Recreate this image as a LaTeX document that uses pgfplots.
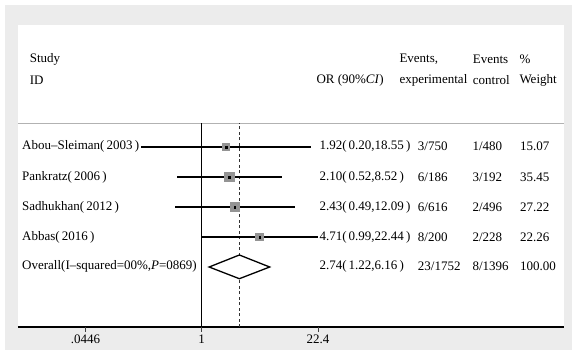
\documentclass[border=0pt]{standalone}
\usepackage{pgfplots}
\pgfplotsset{compat=1.18}
\usepackage{fontspec}
\setmainfont{Liberation Serif}
\newcommand{\tf}{\fontsize{13bp}{15bp}\selectfont}
\begin{document}
\begin{tikzpicture}
\begin{scope}[x=1bp,y=1bp]
\fill[white] (0,0) rectangle (578,355);
\fill[gray!15] (5,5) rectangle (572,350);
\fill[white] (18,28) rectangle (564,330);
\end{scope}
\begin{axis}[
  at={(18bp,28bp)}, anchor=south west,
  scale only axis, width=546bp, height=302bp,
  xmode=log, xmin=0.00736, xmax=16130,
  ymin=0, ymax=302,
  hide y axis,
  axis x line*=bottom,
  axis line style={black, line width=1.2bp, -},
  xtick={0.0446,1,22.4}, xticklabels={.0446,1,22.4},
  major tick length=0pt,
  /pgf/number format/assume math mode=true,
  xticklabel style={font=\tf, yshift=-4bp},
  clip=false,
]
% tick marks
\addplot[black!75, line width=0.8bp] coordinates {(0.0446,0) (0.0446,-5)};
\addplot[black!75, line width=0.8bp] coordinates {(1,0) (1,-5)};
\addplot[black!75, line width=0.8bp] coordinates {(22.4,0) (22.4,-5)};
% gray separator line
\addplot[black!30, line width=0.8bp] coordinates {(0.00736,204) (16130,204)};
% null line and overall dashed line
\addplot[black, line width=0.9bp] coordinates {(1,0) (1,204)};
\addplot[black!80, line width=0.6bp, dash pattern=on 3bp off 2.5bp] coordinates {(2.74,0) (2.74,204)};
% CI lines
\addplot[black, line width=1.3bp] coordinates {(0.20,180) (18.55,180)};
\addplot[black, line width=1.3bp] coordinates {(0.52,150) (8.52,150)};
\addplot[black, line width=1.3bp] coordinates {(0.49,120) (12.09,120)};
\addplot[black, line width=1.3bp] coordinates {(0.99,90) (22.44,90)};
% weight squares
\addplot[only marks, mark=square*, mark size=3.1bp, mark options={fill=black!42, draw=black!42, line width=0pt}] coordinates {(1.92,180)};
\addplot[only marks, mark=square*, mark size=4.75bp, mark options={fill=black!42, draw=black!42, line width=0pt}] coordinates {(2.10,150)};
\addplot[only marks, mark=square*, mark size=4.15bp, mark options={fill=black!42, draw=black!42, line width=0pt}] coordinates {(2.43,120)};
\addplot[only marks, mark=square*, mark size=3.75bp, mark options={fill=black!42, draw=black!42, line width=0pt}] coordinates {(4.71,90)};
% center points
\addplot[only marks, mark=square*, mark size=0.8bp, mark options={fill=black, draw=none}] coordinates {(1.92,180) (2.10,150) (2.43,120) (4.71,90)};
% overall diamond
\addplot[black, line width=1.3bp, fill=white, line join=miter] coordinates {(1.22,60) (2.74,72) (6.16,60) (2.74,48.3) (1.22,60)} -- cycle;
\end{axis}
\begin{scope}[x=1bp,y=1bp, every node/.style={font=\tf, inner sep=0pt}]
\node[anchor=west] at (29.6,296) {Study};
\node[anchor=west] at (29.6,275) {ID};
\node[anchor=east] at (384,275) {OR (90\%\textit{CI})};
\node[anchor=west] at (399.3,296) {Events,};
\node[anchor=west] at (399.3,275) {experimental};
\node[anchor=west] at (472.7,296) {Events};
\node[anchor=west] at (472.7,275) {control};
\node[anchor=west] at (519.3,296) {\%};
\node[anchor=west] at (519.3,275) {Weight};
% row labels
\node[anchor=west] at (22,208.3) {Abou--Sleiman(\,2003\,)};
\node[anchor=west] at (22,177.7) {Pankratz(\,2006\,)};
\node[anchor=west] at (22,147.7) {Sadhukhan(\,2012\,)};
\node[anchor=west] at (22,117.7) {Abbas(\,2016\,)};
\node[anchor=west] at (22,88.3) {Overall(I--squared=00\%,\textit{P}=0869)};
% OR column
\node[anchor=west] at (319.3,208.3) {1.92(\,0.20,18.55\,)};
\node[anchor=west] at (319.3,177.7) {2.10(\,0.52,8.52\,)};
\node[anchor=west] at (319.3,147.7) {2.43(\,0.49,12.09\,)};
\node[anchor=west] at (319.3,117.7) {4.71(\,0.99,22.44\,)};
\node[anchor=west] at (319.3,88.3) {2.74(\,1.22,6.16\,)};
% events experimental
\node[anchor=west] at (417.7,208.3) {3/750};
\node[anchor=west] at (417.7,177.7) {6/186};
\node[anchor=west] at (417.7,147.7) {6/616};
\node[anchor=west] at (417.7,117.7) {8/200};
\node[anchor=west] at (417.7,88.3) {23/1752};
% events control
\node[anchor=west] at (472.3,208.3) {1/480};
\node[anchor=west] at (472.3,177.7) {3/192};
\node[anchor=west] at (472.3,147.7) {2/496};
\node[anchor=west] at (472.3,117.7) {2/228};
\node[anchor=west] at (472.3,88.3) {8/1396};
% weight
\node[anchor=west] at (520,208.3) {15.07};
\node[anchor=west] at (520,177.7) {35.45};
\node[anchor=west] at (520,147.7) {27.22};
\node[anchor=west] at (520,117.7) {22.26};
\node[anchor=west] at (520,88.3) {100.00};
\end{scope}
\end{tikzpicture}
\end{document}
